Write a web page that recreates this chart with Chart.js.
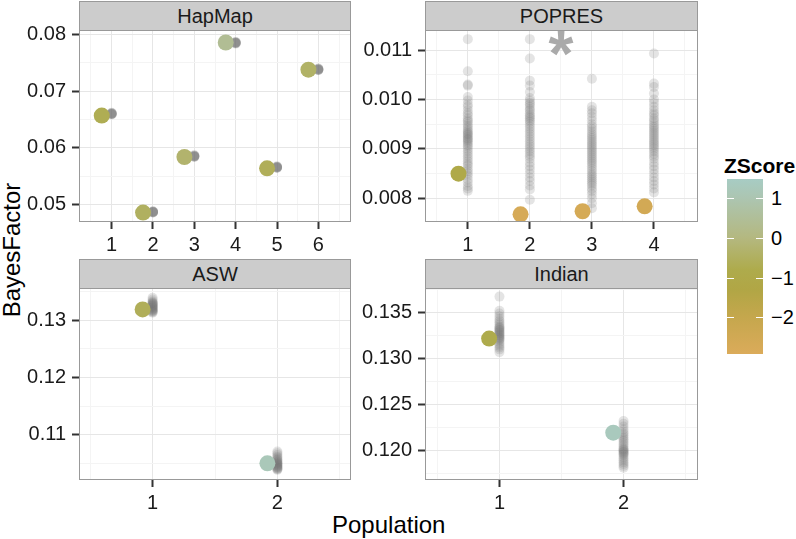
<!DOCTYPE html>
<html>
<head>
<meta charset="utf-8">
<script src="https://cdn.jsdelivr.net/npm/chart.js@4.4.1/dist/chart.umd.min.js"></script>
<style>
  body { margin: 0; width: 796px; height: 539px; position: relative; overflow: hidden; background: #fff;
         font-family: "Liberation Sans", Arial, sans-serif; color: #000; }
  canvas { position: absolute; }
  .strip { position: absolute; background: #cccccc; border: 1px solid #999; box-sizing: border-box;
           text-align: center; font-size: 20px; color: #1a1a1a; }
  .title { position: absolute; font-size: 24px; white-space: nowrap; }
  #legend-title { position: absolute; left: 724px; top: 154px; font-size: 21px; font-weight: bold; }
  #bar { position: absolute; left: 727px; top: 179px; width: 36px; height: 175px; }
  .ltick { position: absolute; height: 1px; width: 7px; background: #fff; }
  .llab { position: absolute; left: 771px; font-size: 20px; line-height: 20px; }
</style>
</head>
<body>
<div class="title" style="left:332px; top:511px;">Population</div>
<div class="title" style="left:-56px; top:236px; transform: rotate(-90deg); width:136px; text-align:center;">BayesFactor</div>
<div id="legend-title">ZScore</div>
<div id="bar"></div>

<script>
// ---- data ----
// HapMap
const hapmapPop = [1, 2, 3, 4, 5, 6];
const hapmapBayes = [0.0657, 0.0486, 0.0584, 0.0786, 0.0564, 0.0738];
const hapmapZ = [-0.7, -0.5, -0.3, 0.4, -0.6, -0.4];
const hapmapNull = [
  [0.0659, 0.06595, 0.0660, 0.06602, 0.06605, 0.0661, 0.06612, 0.0662],
  [0.0486, 0.04863, 0.04866, 0.0487, 0.04872, 0.04875, 0.0488, 0.04885],
  [0.0584, 0.05845, 0.0585, 0.05852, 0.05855, 0.0586, 0.05865, 0.0587],
  [0.0784, 0.07845, 0.0785, 0.07852, 0.07855, 0.0786, 0.07865, 0.0787],
  [0.05645, 0.0565, 0.05655, 0.05658, 0.0566, 0.05665, 0.0567, 0.05675],
  [0.0737, 0.07375, 0.0738, 0.07382, 0.07385, 0.0739, 0.07395, 0.074]
];
const hapmapYTicks = [0.05, 0.06, 0.07, 0.08];
const hapmapYLabels = ["0.05", "0.06", "0.07", "0.08"];

// POPRES
const popresPop = [1, 2, 3, 4];
const popresBayes = [0.008498, 0.007676, 0.007737, 0.007838];
const popresZ = [-1.0, -2.7, -2.65, -2.55];
const popresNull = [
  [0.01122, 0.01057, 0.01030, 0.01028, 0.01005, 0.00998, 0.00990, 0.00985, 0.00978, 0.00972, 0.00968,
   0.00962, 0.00958, 0.00955, 0.00950, 0.00946, 0.00942, 0.00938, 0.00935, 0.00932, 0.00930, 0.00928,
   0.00925, 0.00922, 0.00920, 0.00918, 0.00915, 0.00912, 0.00908, 0.00905, 0.00900, 0.00895, 0.00890,
   0.00885, 0.00880, 0.00875, 0.00870, 0.00866, 0.00860, 0.00855, 0.00850, 0.00845, 0.00838, 0.00832,
   0.00825, 0.00820, 0.00815],
  [0.01122, 0.01083, 0.01038, 0.01028, 0.01015, 0.01003, 0.00998, 0.00993, 0.00990, 0.00985, 0.00980,
   0.00977, 0.00972, 0.00968, 0.00965, 0.00962, 0.00958, 0.00955, 0.00950, 0.00945, 0.00940, 0.00935,
   0.00930, 0.00925, 0.00920, 0.00915, 0.00910, 0.00905, 0.00900, 0.00895, 0.00890, 0.00885, 0.00880,
   0.00872, 0.00865, 0.00858, 0.00850, 0.00842, 0.00835, 0.00826, 0.00818, 0.00797],
  [0.01042, 0.00985, 0.00978, 0.00972, 0.00965, 0.00958, 0.00950, 0.00945, 0.00940, 0.00935, 0.00930,
   0.00926, 0.00922, 0.00918, 0.00914, 0.00910, 0.00906, 0.00902, 0.00898, 0.00894, 0.00890, 0.00886,
   0.00882, 0.00878, 0.00874, 0.00870, 0.00865, 0.00860, 0.00855, 0.00850, 0.00846, 0.00842, 0.00838,
   0.00834, 0.00830, 0.00826, 0.00820, 0.00815, 0.00808, 0.00800, 0.00790, 0.00780],
  [0.01093, 0.01032, 0.01025, 0.01012, 0.01000, 0.00993, 0.00985, 0.00978, 0.00972, 0.00968, 0.00962,
   0.00958, 0.00953, 0.00948, 0.00944, 0.00940, 0.00936, 0.00932, 0.00928, 0.00924, 0.00920, 0.00916,
   0.00912, 0.00908, 0.00904, 0.00900, 0.00895, 0.00890, 0.00885, 0.00880, 0.00872, 0.00865, 0.00858,
   0.00850, 0.00842, 0.00835, 0.00828, 0.00820, 0.00812]
];
const popresYTicks = [0.008, 0.009, 0.010, 0.011];
const popresYLabels = ["0.008", "0.009", "0.010", "0.011"];
const popresStar = { x: 2.5, y: 0.01114, text: "*" };

// ASW
const aswPop = [1, 2];
const aswBayes = [0.13187, 0.10503];
const aswZ = [-0.6, 1.2];
const aswNull = [
  [0.1339, 0.1336, 0.1333, 0.1331, 0.1330, 0.1329, 0.1328, 0.1327, 0.1326, 0.1325, 0.1324, 0.1323,
   0.1322, 0.1321, 0.1320, 0.1319, 0.1318, 0.1317, 0.1316, 0.1315, 0.1314, 0.1313],
  [0.1071, 0.1068, 0.1065, 0.1062, 0.1060, 0.1058, 0.1056, 0.1055, 0.1053, 0.1052, 0.1051, 0.1050,
   0.1049, 0.1048, 0.1047, 0.1046, 0.1045, 0.1044, 0.1043, 0.1042, 0.1041, 0.1040, 0.1039]
];
const aswYTicks = [0.11, 0.12, 0.13];
const aswYLabels = ["0.11", "0.12", "0.13"];

// Indian
const indianPop = [1, 2];
const indianBayes = [0.13218, 0.12192];
const indianZ = [-0.8, 1.3];
const indianNull = [
  [0.13675, 0.1352, 0.1349, 0.1346, 0.1343, 0.1341, 0.1339, 0.1337, 0.1335, 0.1334, 0.1333, 0.1332,
   0.1331, 0.1330, 0.1329, 0.1328, 0.1327, 0.1326, 0.1325, 0.1324, 0.1323, 0.1322, 0.1321, 0.1320,
   0.1318, 0.1316, 0.1314, 0.1312, 0.1310, 0.1307],
  [0.1232, 0.1229, 0.1226, 0.1223, 0.1220, 0.1218, 0.1216, 0.1214, 0.1212, 0.1210, 0.1208, 0.1206,
   0.1204, 0.1202, 0.1201, 0.1200, 0.1199, 0.1198, 0.1197, 0.1196, 0.1195, 0.1193, 0.1191, 0.1189,
   0.1187, 0.1185, 0.1183, 0.1181]
];
const indianYTicks = [0.120, 0.125, 0.130, 0.135];
const indianYLabels = ["0.120", "0.125", "0.130", "0.135"];

// ZScore colour scale
const zStops = [1.48, 1.0, 0.0, -0.8, -1.3, -2.0, -2.92];
const zColors = ["#a7ccc4", "#acc5b1", "#b4b880", "#aeab4c", "#b1a645", "#c5a74d", "#dbab5a"];
const legendTicks = [1, 0, -1, -2];
const legendLabels = ["1", "0", "\u22121", "\u22122"];

// ---- helpers ----
function hexRgb(h) {
  return [parseInt(h.slice(1, 3), 16), parseInt(h.slice(3, 5), 16), parseInt(h.slice(5, 7), 16)];
}
function zColor(z) {
  if (z >= zStops[0]) return zColors[0];
  for (let i = 1; i < zStops.length; i++) {
    if (z >= zStops[i]) {
      const t = (zStops[i - 1] - z) / (zStops[i - 1] - zStops[i]);
      const a = hexRgb(zColors[i - 1]), b = hexRgb(zColors[i]);
      const c = a.map((v, k) => Math.round(v + (b[k] - v) * t));
      return "rgb(" + c.join(",") + ")";
    }
  }
  return zColors[zColors.length - 1];
}

// legend bar
const zTop = zStops[0], zBot = zStops[zStops.length - 1];
const bar = document.getElementById("bar");
bar.style.background = "linear-gradient(to bottom," +
  zStops.map((z, i) => zColors[i] + " " + ((zTop - z) / (zTop - zBot) * 100).toFixed(1) + "%").join(",") + ")";
legendTicks.forEach((z, i) => {
  const y = 179 + (zTop - z) / (zTop - zBot) * 175;
  [727, 756].forEach(x => {
    const t = document.createElement("div");
    t.className = "ltick";
    t.style.left = x + "px";
    t.style.top = Math.round(y) + "px";
    document.body.appendChild(t);
  });
  const l = document.createElement("div");
  l.className = "llab";
  l.style.top = Math.round(y - 10) + "px";
  l.textContent = legendLabels[i];
  document.body.appendChild(l);
});

// ---- panels ----
Chart.defaults.font.family = "'Liberation Sans', Arial, sans-serif";
Chart.defaults.animation = false;

const PAD_L = 80, PAD_R = 15, PAD_T = 20, PAD_B = 45;
const MAJOR = "#e6e6e6", MINOR = "#f4f4f4";

const panels = [
  { title: "HapMap", left: 79, right: 351, top: 30, bottom: 222, xMin: 0.21, xMax: 6.79, yMin: 0.04694, yMax: 0.0808,
    pop: hapmapPop, bayes: hapmapBayes, z: hapmapZ, nul: hapmapNull, yTicks: hapmapYTicks, yLabels: hapmapYLabels, offset: -0.24 },
  { title: "POPRES", left: 425, right: 698, top: 30, bottom: 222, xMin: 0.31, xMax: 4.71, yMin: 0.00752, yMax: 0.011405,
    pop: popresPop, bayes: popresBayes, z: popresZ, nul: popresNull, yTicks: popresYTicks, yLabels: popresYLabels, offset: -0.15,
    star: popresStar },
  { title: "ASW", left: 79, right: 351, top: 288, bottom: 480, xMin: 0.41, xMax: 2.59, yMin: 0.10213, yMax: 0.1356,
    pop: aswPop, bayes: aswBayes, z: aswZ, nul: aswNull, yTicks: aswYTicks, yLabels: aswYLabels, offset: -0.08 },
  { title: "Indian", left: 425, right: 698, top: 288, bottom: 480, xMin: 0.40, xMax: 2.60, yMin: 0.11676, yMax: 0.13769,
    pop: indianPop, bayes: indianBayes, z: indianZ, nul: indianNull, yTicks: indianYTicks, yLabels: indianYLabels, offset: -0.083 }
];

// majors plus half-way minors inside the range
function withMinor(major, min, max) {
  const step = major[1] - major[0];
  const out = [];
  for (let v = major[0] - step / 2; v <= max + 1e-12; v += step / 2) {
    if (v >= min - 1e-12) out.push(+v.toFixed(8));
  }
  return out;
}
function isMajor(list, v) {
  return list.some(m => Math.abs(m - v) < 1e-9);
}

const borderPlugin = {
  id: "panelBorder",
  afterDraw(chart) {
    const a = chart.chartArea, ctx = chart.ctx;
    ctx.save();
    ctx.strokeStyle = "#999";
    ctx.lineWidth = 1;
    ctx.strokeRect(a.left + 0.5, a.top + 0.5, a.right - a.left - 1, a.bottom - a.top - 1);
    ctx.restore();
  }
};

const starPlugin = {
  id: "star",
  afterDatasetsDraw(chart, args, opts) {
    const s = opts.mark;
    if (!s) return;
    const ctx = chart.ctx;
    const x = chart.scales.x.getPixelForValue(s.x);
    const y = chart.scales.y.getPixelForValue(s.y);
    ctx.save();
    ctx.font = "bold 100px 'Liberation Sans', Arial, sans-serif";
    const m = ctx.measureText(s.text);
    const w = m.actualBoundingBoxLeft + m.actualBoundingBoxRight;
    const size = 100 * 25 / w;
    ctx.font = "bold " + size + "px 'Liberation Sans', Arial, sans-serif";
    const m2 = ctx.measureText(s.text);
    ctx.fillStyle = "#aaaaaa";
    ctx.textAlign = "center";
    ctx.textBaseline = "alphabetic";
    ctx.fillText(s.text, x, y + (m2.actualBoundingBoxAscent - m2.actualBoundingBoxDescent) / 2);
    ctx.restore();
  }
};

panels.forEach(p => {
  const strip = document.createElement("div");
  strip.className = "strip";
  strip.style.left = p.left + "px";
  strip.style.width = (p.right - p.left) + "px";
  strip.style.top = (p.top - 29) + "px";
  strip.style.height = "30px";
  strip.style.lineHeight = "28px";
  strip.textContent = p.title;
  document.body.appendChild(strip);

  const cv = document.createElement("canvas");
  cv.width = p.right - p.left + PAD_L + PAD_R;
  cv.height = p.bottom - p.top + PAD_T + PAD_B;
  cv.style.left = (p.left - PAD_L) + "px";
  cv.style.top = (p.top - PAD_T) + "px";
  document.body.appendChild(cv);

  const xTicks = p.pop;
  const grayPts = [];
  p.nul.forEach((vals, i) => vals.forEach(v => grayPts.push({ x: p.pop[i], y: v })));

  new Chart(cv.getContext("2d"), {
    type: "scatter",
    data: {
      datasets: [
        {
          label: "observed",
          data: p.pop.map((x, i) => ({ x: x + p.offset, y: p.bayes[i] })),
          backgroundColor: p.z.map(zColor),
          pointRadius: 8,
          borderWidth: 0
        },
        {
          label: "null",
          data: grayPts,
          backgroundColor: "rgba(120,120,120,0.2)",
          pointRadius: 5,
          borderWidth: 0
        }
      ]
    },
    options: {
      responsive: false,
      layout: { padding: { left: 0, right: PAD_R, top: PAD_T, bottom: 0 } },
      plugins: { legend: { display: false }, tooltip: { enabled: false }, star: { mark: p.star } },
      scales: {
        x: {
          type: "linear", min: p.xMin, max: p.xMax,
          afterBuildTicks: s => { s.ticks = withMinor(xTicks, p.xMin, p.xMax).map(v => ({ value: v })); },
          afterFit: s => { s.height = PAD_B; },
          border: { display: false },
          grid: {
            color: c => isMajor(xTicks, c.tick.value) ? MAJOR : MINOR,
            tickColor: c => isMajor(xTicks, c.tick.value) ? "#333" : "rgba(0,0,0,0)",
            tickLength: 7, tickWidth: 2, lineWidth: 1
          },
          ticks: {
            autoSkip: false, maxRotation: 0, minRotation: 0, padding: 4,
            font: { size: 20 }, color: "#1a1a1a",
            callback: v => isMajor(xTicks, v) ? String(Math.round(v)) : ""
          }
        },
        y: {
          type: "linear", min: p.yMin, max: p.yMax,
          afterBuildTicks: s => { s.ticks = withMinor(p.yTicks, p.yMin, p.yMax).map(v => ({ value: v })); },
          afterFit: s => { s.width = PAD_L; },
          border: { display: false },
          grid: {
            color: c => isMajor(p.yTicks, c.tick.value) ? MAJOR : MINOR,
            tickColor: c => isMajor(p.yTicks, c.tick.value) ? "#333" : "rgba(0,0,0,0)",
            tickLength: 7, tickWidth: 2, lineWidth: 1
          },
          ticks: {
            autoSkip: false, padding: 6,
            font: { size: 20 }, color: "#1a1a1a",
            callback: v => {
              const k = p.yTicks.findIndex(m => Math.abs(m - v) < 1e-9);
              return k >= 0 ? p.yLabels[k] : "";
            }
          }
        }
      }
    },
    plugins: [borderPlugin, starPlugin]
  });
});
</script>
</body>
</html>
